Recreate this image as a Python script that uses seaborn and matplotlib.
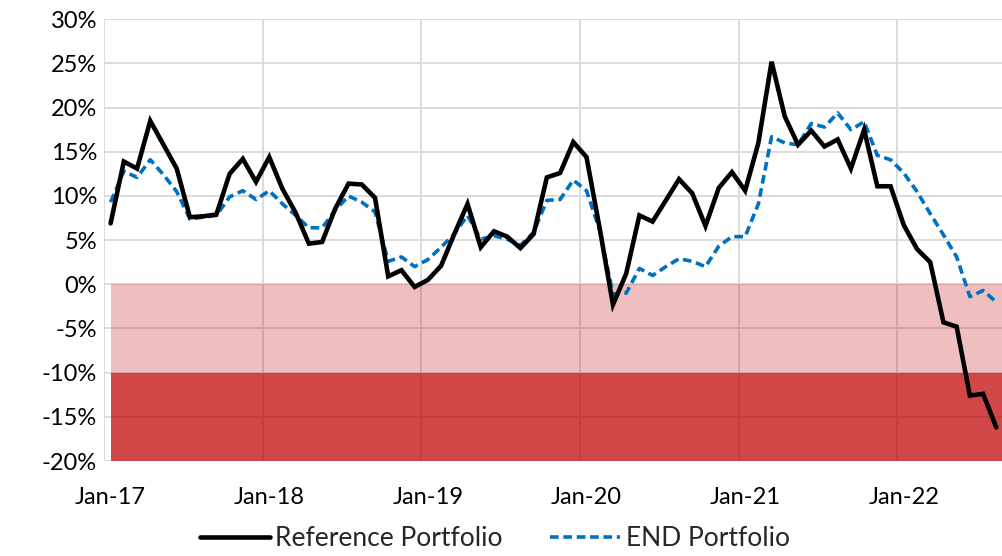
import numpy as np
import pandas as pd
import matplotlib
matplotlib.use("Agg")
import matplotlib.pyplot as plt
import seaborn as sns

months = pd.date_range("2017-01-01", "2022-08-01", freq="MS").strftime("%b-%y").tolist()

reference_portfolio = [
    6.9, 13.9, 13.1, 18.5, 15.8, 13.1, 7.6, 7.7, 7.9, 12.5, 14.2, 11.6,
    14.4, 10.8, 8.1, 4.6, 4.8, 8.6, 11.4, 11.3, 9.8, 0.9, 1.6, -0.3,
    0.5, 2.1, 5.7, 9.1, 4.2, 6.0, 5.4, 4.1, 5.7, 12.1, 12.6, 16.1,
    14.4, 6.3, -2.3, 1.2, 7.8, 7.1, 9.5, 11.9, 10.3, 6.6, 10.9, 12.7,
    10.6, 16.0, 25.2, 19.0, 15.8, 17.4, 15.6, 16.4, 13.1, 17.5, 11.1, 11.1,
    6.7, 4.0, 2.5, -4.3, -4.8, -12.6, -12.4, -16.2,
]
end_portfolio = [
    9.3, 12.8, 12.1, 14.1, 12.4, 10.5, 7.4, 7.6, 7.8, 9.9, 10.6, 9.6,
    10.6, 9.1, 7.8, 6.4, 6.4, 8.4, 10.0, 9.3, 8.2, 2.6, 3.1, 2.0,
    2.8, 4.2, 5.7, 7.8, 5.1, 5.5, 5.1, 4.4, 5.9, 9.5, 9.6, 11.8,
    10.6, 6.1, -1.1, -1.0, 1.8, 1.0, 2.0, 2.9, 2.6, 2.0, 4.3, 5.4,
    5.4, 9.1, 16.7, 16.0, 15.8, 18.2, 17.8, 19.4, 17.5, 18.4, 14.6, 14.1,
    12.6, 10.5, 8.0, 5.6, 3.1, -1.4, -0.7, -2.0,
]
x_labels = ["Jan-17", "Jan-18", "Jan-19", "Jan-20", "Jan-21", "Jan-22"]
y_ticks = [30, 25, 20, 15, 10, 5, 0, -5, -10, -15, -20]
y_labels = ["30%", "25%", "20%", "15%", "10%", "5%", "0%", "-5%", "-10%", "-15%", "-20%"]
zone_light = (0, -10)
zone_dark = (-10, -20)

df = pd.DataFrame({
    "idx": np.arange(len(months)),
    "month": months,
    "Reference Portfolio": reference_portfolio,
    "END Portfolio": end_portfolio,
})

sns.set_theme(style="white")
plt.rcParams["font.family"] = ["Lato", "DejaVu Sans"]

fig = plt.figure(figsize=(10.02, 5.56), dpi=100)
ax = fig.add_axes([104 / 1002, 1 - 461 / 556, 898 / 1002, (461 - 19.3) / 556])

n = len(months)
# shaded zones
ax.fill_between([0, n + 2], zone_light[0], zone_light[1], color="#C00000", alpha=0.25,
                linewidth=0, zorder=2)
ax.fill_between([0, n + 2], zone_dark[0], zone_dark[1], color="#C00000", alpha=0.72,
                linewidth=0, zorder=2)

sns.lineplot(data=df, x="idx", y="END Portfolio", ax=ax, color="#0070C0",
             linewidth=2.6, label="END Portfolio", zorder=4)
sns.lineplot(data=df, x="idx", y="Reference Portfolio", ax=ax, color="black",
             linewidth=3.3, label="Reference Portfolio", zorder=5)
for ln in ax.get_lines():
    if ln.get_label() == "END Portfolio":
        ln.set_dashes((2.4, 1.3))
        ln.set_dash_capstyle("butt")
    ln.set_solid_joinstyle("miter")

ax.set_xlim(-0.5, 67.43)
ax.set_ylim(-20, 30)

year_starts = [i for i, m in enumerate(months) if m.startswith("Jan")]
ax.set_xticks([i - 0.5 for i in year_starts])
ax.set_xticklabels([])
ax.set_xticks(year_starts, minor=True)
ax.set_xticklabels(x_labels, minor=True)
ax.set_yticks(y_ticks)
ax.set_yticklabels(y_labels)

ax.tick_params(axis="x", which="both", length=0)
ax.tick_params(axis="x", which="minor", pad=19, labelsize=17, colors="black")
ax.tick_params(axis="y", length=0, pad=5, labelsize=17, colors="black")
ax.grid(True, which="major", color="#D9D9D9", linewidth=1.3, zorder=1)
ax.set_axisbelow(True)
for s in ax.spines.values():
    s.set_visible(False)
ax.set_xlabel("")
ax.set_ylabel("")

handles, labels = ax.get_legend_handles_labels()
order = [labels.index("Reference Portfolio"), labels.index("END Portfolio")]
ax.legend_.remove()
fig.legend([handles[i] for i in order], [labels[i] for i in order],
           loc="lower center", bbox_to_anchor=(0.494, -0.034), ncol=2, frameon=False,
           fontsize=19, handlelength=2.65, handletextpad=0.2, columnspacing=1.8)

fig.savefig("out.png", dpi=100)
